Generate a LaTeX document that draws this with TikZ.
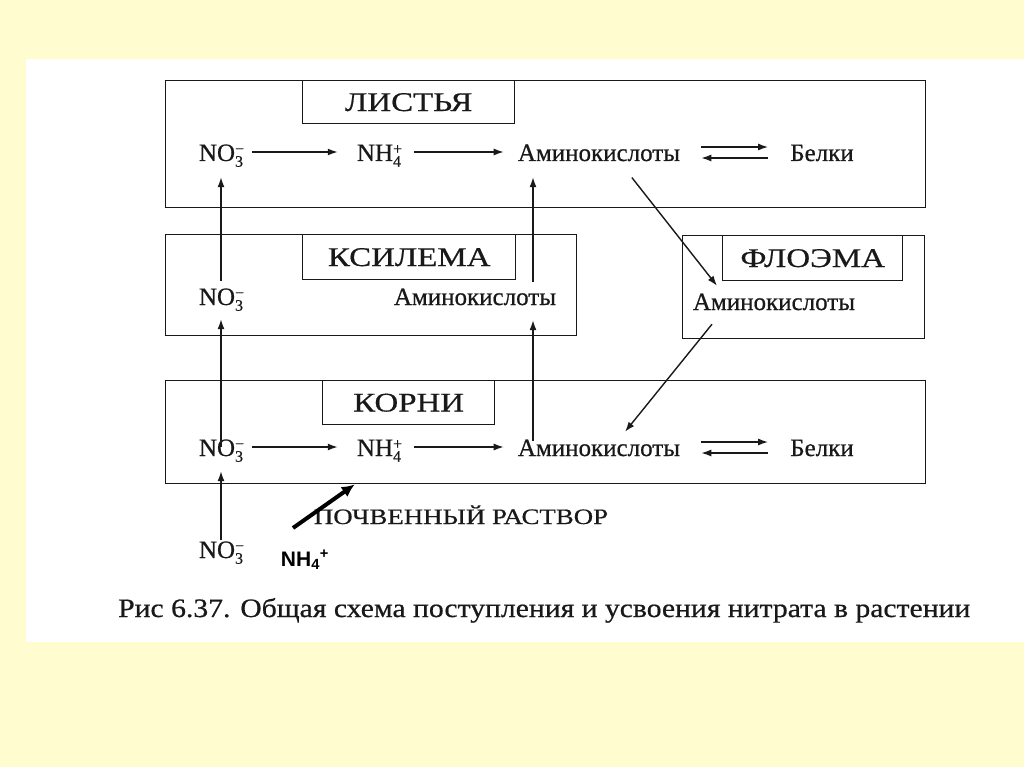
\documentclass[tikz,border=0pt]{standalone}
\usepackage{fontspec}
\setmainfont{Liberation Serif}[FakeBold=0.6]
\newfontfamily\tagfont{Liberation Serif}[FakeStretch=1.22, FakeBold=0.6]
\newfontfamily\arialb{Liberation Sans}
\usetikzlibrary{arrows.meta,calc}
\definecolor{bgyellow}{RGB}{255,252,208}
\definecolor{ink}{RGB}{25,25,25}
\newcommand{\ionX}[3]{#1\rlap{\raisebox{0.6ex}{\fontsize{16}{16}\selectfont #3}}\raisebox{-0.5ex}{\fontsize{16}{16}\selectfont #2}}
\begin{document}
\begin{tikzpicture}[x=1pt,y=-1pt,
  frame/.style={draw=ink, line width=1.4pt, inner sep=0pt, anchor=north west},
  tag/.style={draw=ink, line width=1.4pt, inner sep=0pt, anchor=north west, text=ink,
              font=\tagfont\fontsize{27}{30}\selectfont},
  txt/.style={font=\fontsize{25}{28}\selectfont, text=ink, inner xsep=5pt, inner ysep=7pt,
              text height=17pt, text depth=7pt, anchor=base},
  arr/.style={-{Latex[length=10pt,width=7pt]}, line width=1.4pt, draw=ink},
  boldarr/.style={-{Latex[length=13pt,width=12pt]}, line width=4pt, draw=black}]
\fill[bgyellow] (0,0) rectangle (1024,767);
\fill[white] (26,59) rectangle (1024,642);
\useasboundingbox (0,0) rectangle (1024,767);

% boxes
\node[frame, minimum width=760pt, minimum height=127pt] (leaf) at (165,80) {};
\node[tag, minimum width=212pt, minimum height=43pt] (leaftag) at (302,80) {ЛИСТЬЯ};
\node[frame, minimum width=411pt, minimum height=101pt] (xyl) at (165,234) {};
\node[tag, minimum width=213pt, minimum height=45pt] (xyltag) at (302,234) {КСИЛЕМА};
\node[frame, minimum width=242pt, minimum height=103pt] (phl) at (682,235) {};
\node[tag, minimum width=180pt, minimum height=45pt] (phltag) at (722,235) {ФЛОЭМА};
\node[frame, minimum width=760pt, minimum height=103pt] (root) at (165,380) {};
\node[tag, minimum width=172pt, minimum height=44pt] (roottag) at (322,380) {КОРНИ};

% leaf row
\node[txt] (lN) at (221,161) {\ionX{NO}{3}{−}};
\node[txt] (lNH) at (379,161) {\ionX{NH}{4}{+}};
\node[txt] (lA) at (599,161) {Аминокислоты};
\node[txt] (lB) at (822,161) {Белки};
% xylem
\node[txt] (xN) at (221,305) {\ionX{NO}{3}{−}};
\node[txt] (xA) at (475,305) {Аминокислоты};
% phloem
\node[txt] (pA) at (774,310) {Аминокислоты};
% roots
\node[txt] (rN) at (221,456) {\ionX{NO}{3}{−}};
\node[txt] (rNH) at (379,456) {\ionX{NH}{4}{+}};
\node[txt] (rA) at (599,456) {Аминокислоты};
\node[txt] (rB) at (822,456) {Белки};
% soil
\node[txt] (sN) at (221,558) {\ionX{NO}{3}{−}};
\node[anchor=base, text=ink, font=\tagfont\fontsize{22}{24}\selectfont] (soil) at (461,524) {ПОЧВЕННЫЙ РАСТВОР};
\node[anchor=base, font=\arialb\bfseries\fontsize{21}{24}\selectfont] (nhs) at (305,566) {NH\textsubscript{4}\textsuperscript{+}};
\coordinate (soilin) at (293,528);

% caption
\node[anchor=base west, text=ink, inner sep=0pt] (cap) at (118,617)
  {\resizebox{852pt}{19pt}{Рис 6.37. Общая схема поступления и усвоения нитрата в растении}};

% horizontal arrows
\draw[arr, shorten <=4pt, shorten >=14pt] ([yshift=4pt]lN.east) -- ([yshift=4pt]lNH.west);
\draw[arr, shorten <=8pt, shorten >=9pt] ([yshift=4pt]lNH.east) -- ([yshift=4pt]lA.west);
\draw[arr, shorten <=4pt, shorten >=14pt] ([yshift=4pt]rN.east) -- ([yshift=4pt]rNH.west);
\draw[arr, shorten <=8pt, shorten >=9pt] ([yshift=4pt]rNH.east) -- ([yshift=4pt]rA.west);
\draw[arr, shorten <=16pt, shorten >=17pt] ([yshift=9pt]lA.east) -- ([yshift=9pt]lB.west);
\draw[arr, shorten <=17pt, shorten >=16pt] ([yshift=-2pt]lB.west) -- ([yshift=-2pt]lA.east);
\draw[arr, shorten <=16pt, shorten >=17pt] ([yshift=9pt]rA.east) -- ([yshift=9pt]rB.west);
\draw[arr, shorten <=17pt, shorten >=16pt] ([yshift=-2pt]rB.west) -- ([yshift=-2pt]rA.east);

% vertical arrows
\draw[arr, shorten >=2pt] (xN.north) -- (lN.south);
\draw[arr, shorten <=-15pt] (rN.north) -- (xN.south);
\draw[arr, shorten <=-6pt, shorten >=1pt] (sN.north) -- (rN.south);
\draw[arr, shorten <=-1pt, shorten >=2pt] ([xshift=58pt]xA.north) -- ([xshift=-66pt]lA.south);
\draw[arr, shorten <=-9pt, shorten >=1pt] ([xshift=-66pt]rA.north) -- ([xshift=58pt]xA.south);

% diagonal arrows
\draw[arr, shorten <=3pt] ([xshift=31pt]lA.south) -- ([xshift=-57pt]pA.north);
\draw[arr] ([xshift=-62pt]pA.south) -- ([xshift=26pt]rA.north);

% NH4+ from soil
\draw[boldarr] (soilin) -- ($(rNH.west |- root.south)+(3pt,0)$);
\end{tikzpicture}
\end{document}
